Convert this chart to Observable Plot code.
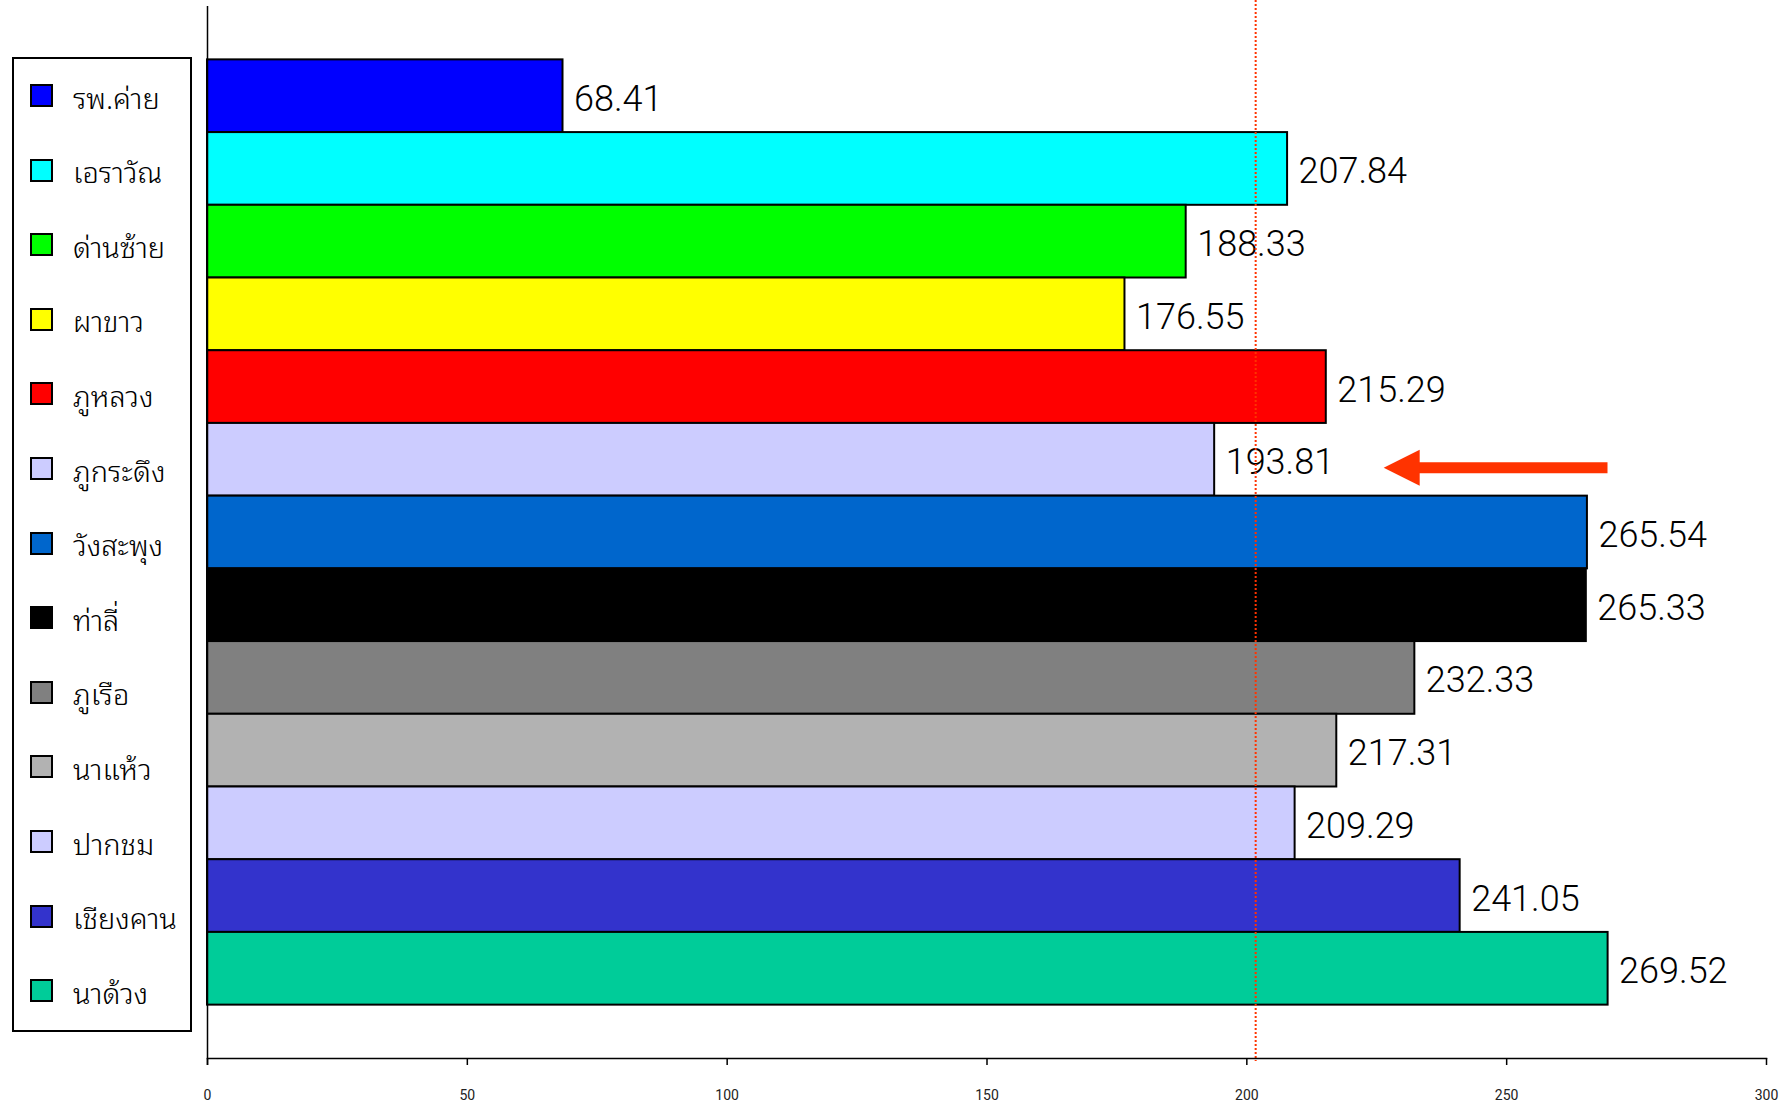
<!DOCTYPE html>
<html>
<head>
<meta charset="utf-8">
<script src="https://cdn.jsdelivr.net/npm/d3@7"></script>
<script src="https://cdn.jsdelivr.net/npm/@observablehq/plot@0.6"></script>
<style>
  body { margin: 0; background: #fff; }
  #chart { position: relative; width: 1792px; height: 1102px; }
  #legend {
    position: absolute; left: 12px; top: 57px; width: 176px; height: 971px;
    border: 2px solid #000; background: #fff;
    font-family: "Noto Sans Thai Looped", "Loma", "Garuda", "Norasi", "Tlwg Typo", "Noto Sans Thai", "Noto Sans", "DejaVu Sans", sans-serif;
  }
  .item { position: absolute; left: 16px; height: 40px; display: flex; align-items: center; }
  .sw { width: 19px; height: 19px; border: 2px solid #000; box-sizing: content-box; }
  .lb { margin-left: 20px; font-size: 29px; font-weight: 300; color: #000; white-space: nowrap; }
</style>
</head>
<body>
<div id="chart"></div>
<script>
// Hospitals / districts, top to bottom
const names = ["รพ.ค่าย", "เอราวัณ", "ด่านซ้าย", "ผาขาว", "ภูหลวง", "ภูกระดึง", "วังสะพุง",
               "ท่าลี่", "ภูเรือ", "นาแห้ว", "ปากชม", "เชียงคาน", "นาด้วง"];
const values = [68.41, 207.84, 188.33, 176.55, 215.29, 193.81, 265.54,
                265.33, 232.33, 217.31, 209.29, 241.05, 269.52];
const colors = ["#0000FF", "#00FFFF", "#00FF00", "#FFFF00", "#FF0000", "#CCCCFF", "#0066CC",
                "#000000", "#808080", "#B2B2B2", "#CCCCFF", "#3333CC", "#00CC99"];
const xTicks = [0, 50, 100, 150, 200, 250, 300];

// Reference level (dotted line) and the highlighted unit with its arrow
const referenceLevel = 201.7;
const highlighted = "ภูกระดึง";
const arrowTip = 226.3;
const arrowTail = 269.5;

const data = names.map((name, i) => ({name, value: values[i]}));

// Left-pointing filled arrow head
const arrowHead = {
  draw(context, size) {
    const s = Math.sqrt(size);
    context.moveTo(-s / 2, 0);
    context.lineTo(s / 2, -s / 2);
    context.lineTo(s / 2, s / 2);
    context.closePath();
  }
};

const chart = Plot.plot({
  width: 1792,
  height: 1102,
  marginLeft: 207,
  marginRight: 26,
  marginTop: 0,
  marginBottom: 44,
  style: {background: "#fff", overflow: "visible"},
  x: {domain: [0, 300], ticks: xTicks, label: null},
  y: {domain: names, insetTop: 6, padding: 0, paddingOuter: 0.734, round: false, axis: null},
  color: {type: "ordinal", domain: names, range: colors},
  marks: [
    Plot.barX(data, {x: "value", y: "name", fill: "name", stroke: "#000", strokeWidth: 2}),
    Plot.text(data, {
      x: "value", y: "name", text: d => d.value.toFixed(2),
      textAnchor: "start", dx: 11, dy: 3, fontSize: 36, fontWeight: 300,
      fontFamily: "Roboto, 'Liberation Sans', sans-serif", fill: "#000"
    }),
    Plot.ruleX([referenceLevel], {stroke: "#FF3300", strokeWidth: 2, strokeDasharray: "2,2", insetBottom: -3}),
    Plot.ruleY([highlighted], {
      y: d => d, x1: arrowTip + 6.5, x2: arrowTail, stroke: "#FF3300", strokeWidth: 11, dy: 8
    }),
    Plot.dot([highlighted], {
      y: d => d, x: arrowTip + 3.5, symbol: arrowHead, r: 20.3, fill: "#FF3300", stroke: "none", dy: 8
    }),
    Plot.ruleX([0], {stroke: "#000", strokeWidth: 1.5, insetTop: 6, insetBottom: -7}),
    Plot.frame({anchor: "bottom", stroke: "#000", strokeWidth: 1.5}),
    Plot.axisX({
      ticks: xTicks, tickSize: 7, tickPadding: 25, fontSize: 14, label: null,
      fontFamily: "Roboto, 'Liberation Sans', sans-serif", fill: "#222", stroke: "#000", strokeWidth: 1.5,
      tickFormat: d => String(d)
    })
  ]
});

const root = document.getElementById("chart");
root.appendChild(chart);

// Legend box drawn on top of the left margin
const legend = document.createElement("div");
legend.id = "legend";
names.forEach((name, i) => {
  const item = document.createElement("div");
  item.className = "item";
  item.style.top = (16.5 + i * 74.6) + "px";
  const sw = document.createElement("div");
  sw.className = "sw";
  sw.style.background = colors[i];
  const lb = document.createElement("span");
  lb.className = "lb";
  lb.textContent = name;
  item.appendChild(sw);
  item.appendChild(lb);
  legend.appendChild(item);
});
root.appendChild(legend);
</script>
</body>
</html>
